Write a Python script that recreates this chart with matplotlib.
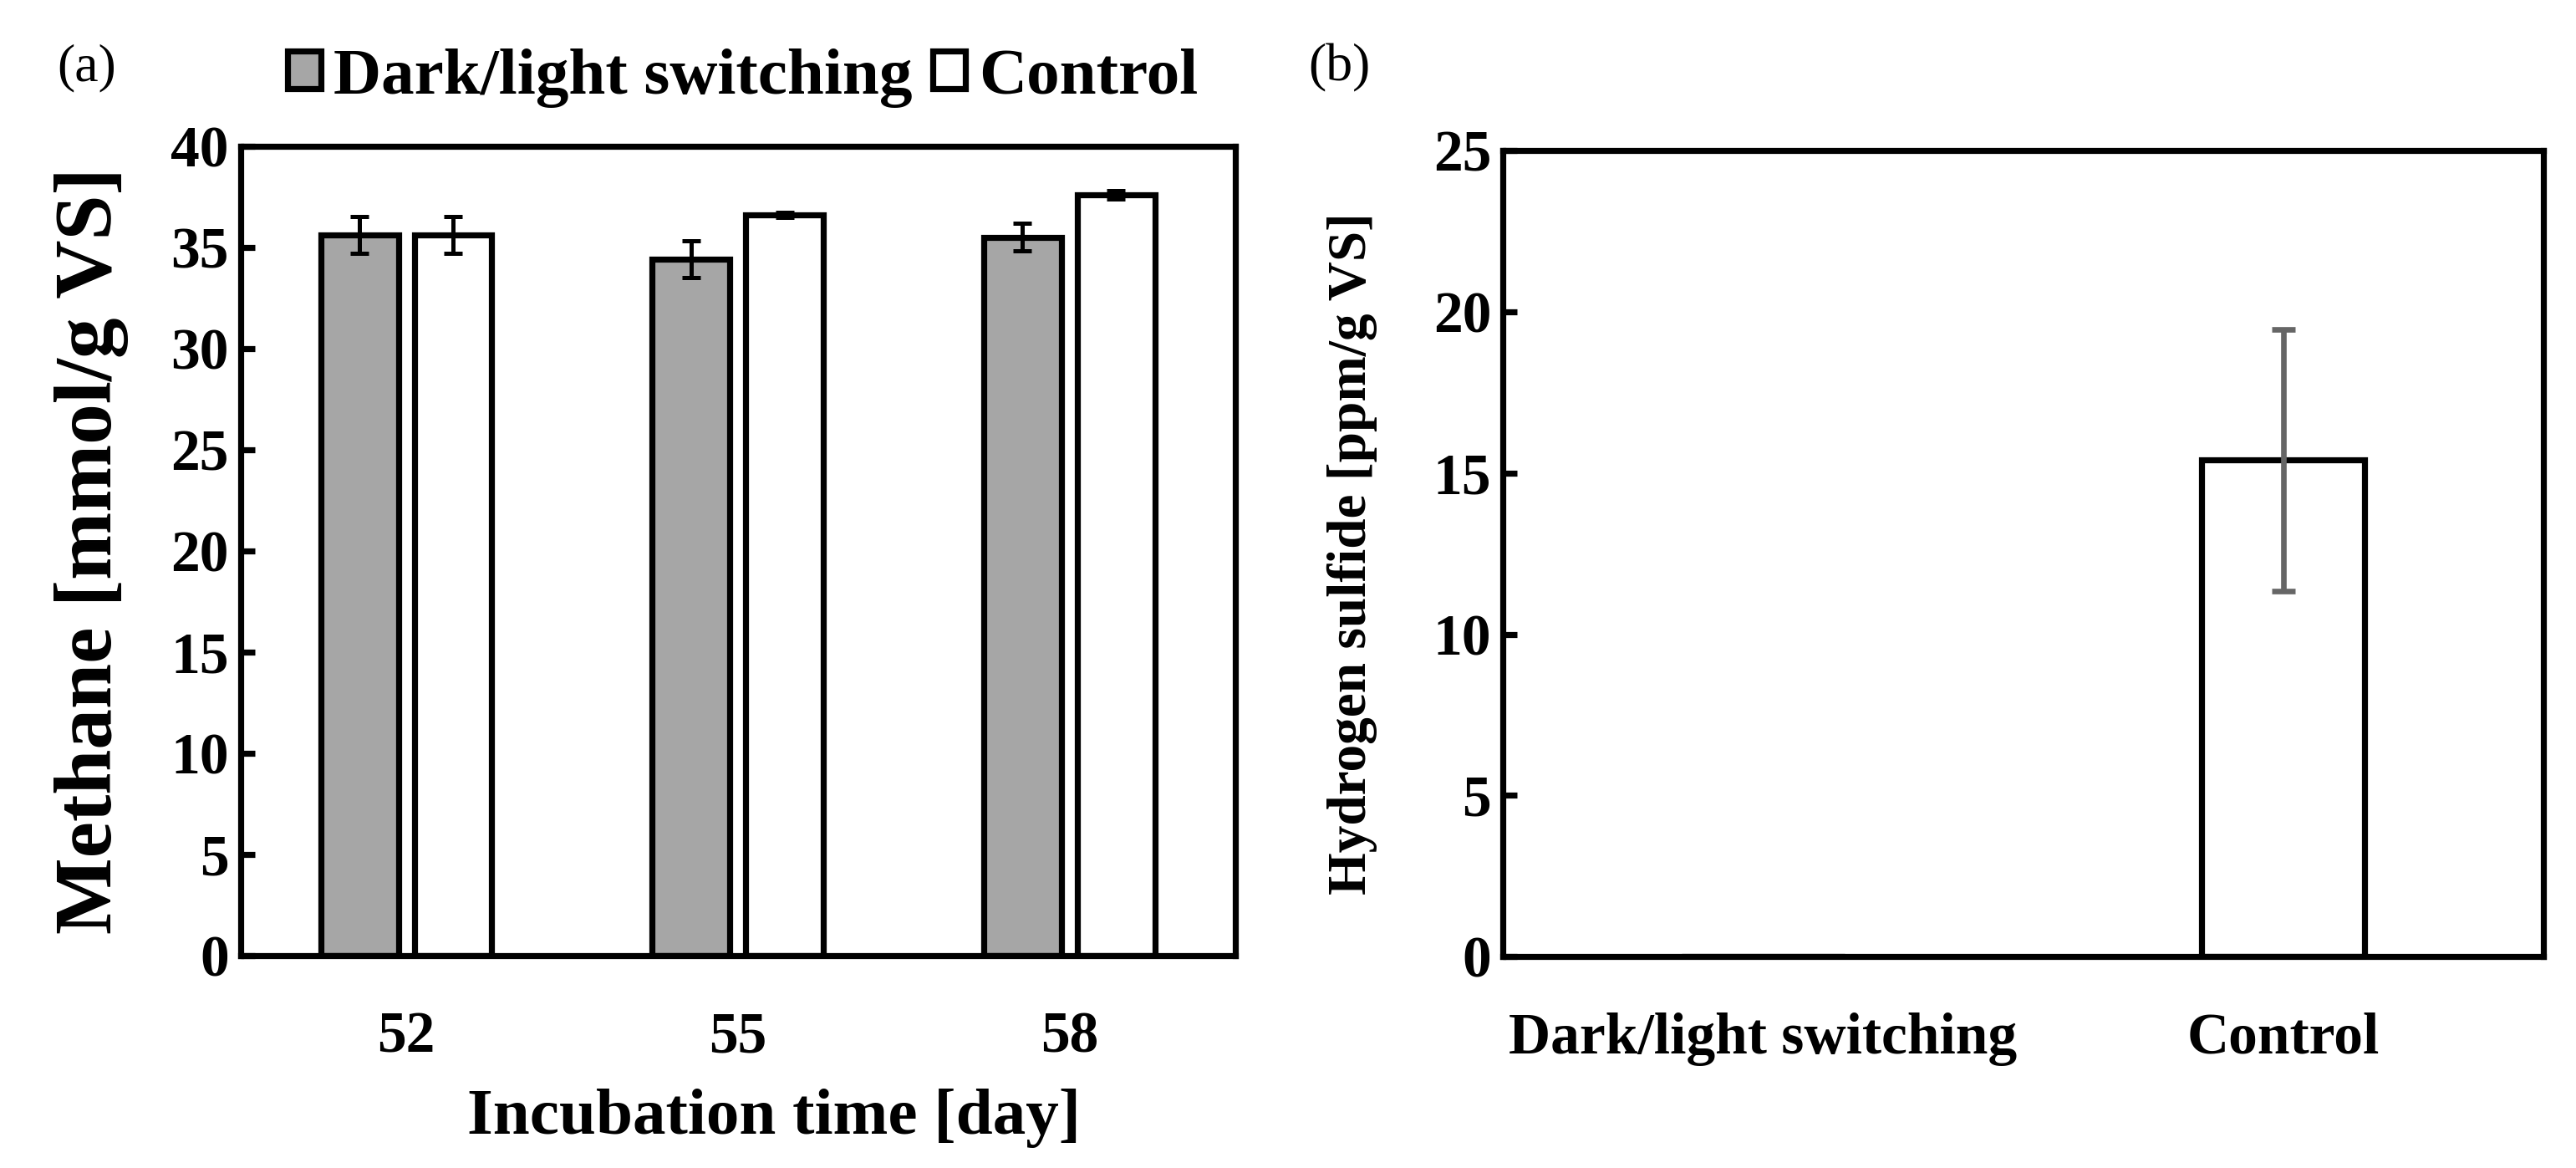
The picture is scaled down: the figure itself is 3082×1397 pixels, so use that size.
import numpy as np
import matplotlib
matplotlib.use('Agg')
import matplotlib.pyplot as plt
from matplotlib.patches import Patch

plt.rcParams['font.family'] = ['Liberation Serif', 'DejaVu Serif']

# (a) methane per day
days = ['52', '55', '58']
methane_switch = [35.6, 34.4, 35.5]
methane_switch_err = [0.9, 0.9, 0.7]
methane_ctrl = [35.6, 36.6, 37.6]
methane_ctrl_err = [0.9, 0.12, 0.2]

# (b) hydrogen sulfide
groups = ['Dark/light switching', 'Control']
h2s = [0.0, 15.4]
h2s_err = [0.0, 4.05]

gray = '#A6A6A6'
lw = 2.6

fig = plt.figure(figsize=(15.41, 6.985), dpi=200)
ax1 = fig.add_axes([0.0934, 0.182, 0.386, 0.693])
ax2 = fig.add_axes([0.5834, 0.181, 0.404, 0.690])

# ----- panel a -----
x = np.arange(len(days))
w = 0.234
off = 0.141
ax1.bar(x - off, methane_switch, w, color=gray, edgecolor='black', linewidth=lw,
        yerr=methane_switch_err, error_kw=dict(ecolor='black', elinewidth=1.8, capsize=4, capthick=1.8))
ax1.bar(x + off, methane_ctrl, w, color='white', edgecolor='black', linewidth=lw,
        yerr=methane_ctrl_err, error_kw=dict(ecolor='black', elinewidth=1.8, capsize=4, capthick=1.8))
ax1.set_xlim(-0.5, 2.5)
ax1.set_ylim(0, 40)
ax1.set_yticks(np.arange(0, 41, 5))
ax1.set_xticks(x)
ax1.set_xticklabels(days)
ax1.set_ylabel('Methane [mmol/g VS]', fontsize=35, fontweight='bold', labelpad=18)
ax1.set_xlabel('Incubation time [day]', fontsize=28.5, fontweight='bold', labelpad=12)
ax1.xaxis.set_label_coords(0.536, -0.165)

handles = [Patch(facecolor=gray, edgecolor='black', linewidth=lw),
           Patch(facecolor='white', edgecolor='black', linewidth=lw)]
ax1.legend(handles, ['Dark/light switching', 'Control'], ncol=2, frameon=False,
           loc='center', bbox_to_anchor=(0.505, 1.084),
           prop=dict(size=28.5, weight='bold'),
           handlelength=0.5, handleheight=0.5, handletextpad=0.2, columnspacing=0.3)

# ----- panel b -----
xb = np.arange(len(groups))
ax2.bar(xb, h2s, 0.313, color='white', edgecolor='black', linewidth=lw,
        yerr=h2s_err, error_kw=dict(ecolor='#666666', elinewidth=2.4, capsize=5, capthick=2.4))
ax2.set_xlim(-0.5, 1.5)
ax2.set_ylim(0, 25)
ax2.set_yticks(np.arange(0, 26, 5))
ax2.set_xticks(xb)
ax2.set_xticklabels(groups)
ax2.set_ylabel('Hydrogen sulfide [ppm/g VS]', fontsize=23.5, fontweight='bold', labelpad=24)

for ax in (ax1, ax2):
    for s in ax.spines.values():
        s.set_linewidth(lw)
    ax.tick_params(axis='y', direction='in', length=6, width=lw, labelsize=25, pad=5)
    ax.tick_params(axis='x', length=0, labelsize=25, pad=24)
    for t in ax.get_xticklabels() + ax.get_yticklabels():
        t.set_fontweight('bold')

fig.text(0.022, 0.942, '(a)', fontsize=23, va='center', ha='left')
fig.text(0.508, 0.942, '(b)', fontsize=23, va='center', ha='left')

fig.savefig('out.png', dpi=200)
